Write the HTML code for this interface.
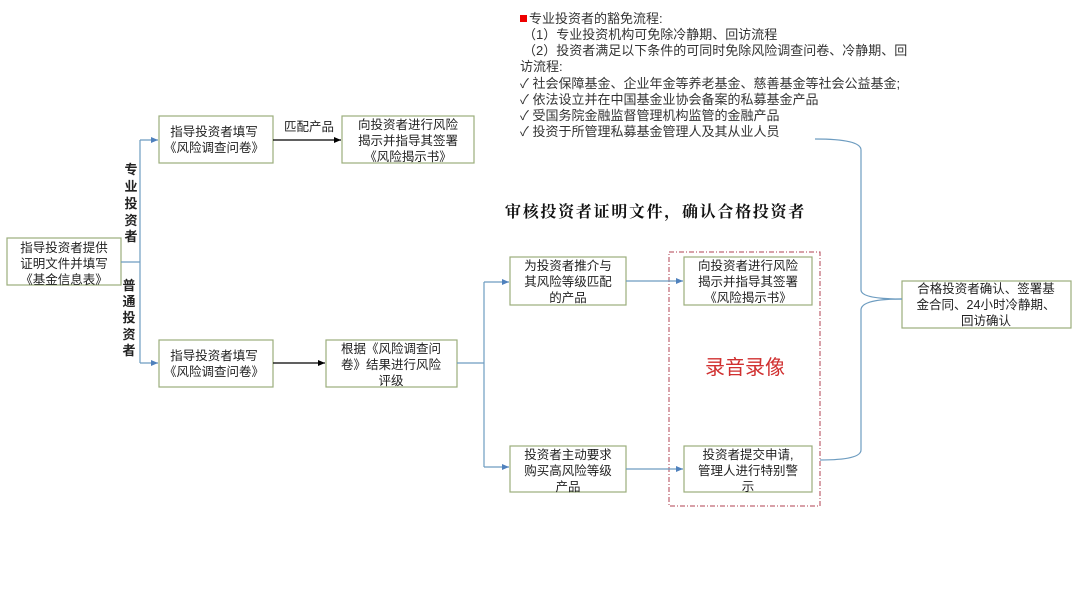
<!DOCTYPE html>
<html><head><meta charset="utf-8"><style>
body{margin:0;background:#fff;}
svg{display:block;font-family:"Liberation Sans","Noto Sans CJK SC",sans-serif;}
</style></head><body>
<svg width="1080" height="608" viewBox="0 0 1080 608" xmlns="http://www.w3.org/2000/svg">
<defs>
<marker id="ab" markerWidth="8" markerHeight="8" refX="7" refY="4" orient="auto" markerUnits="userSpaceOnUse"><path d="M0,1 L7,4 L0,7 z" fill="#4f81bd"/></marker>
<marker id="ak" markerWidth="8" markerHeight="8" refX="7" refY="4" orient="auto" markerUnits="userSpaceOnUse"><path d="M0,1 L7,4 L0,7 z" fill="#000"/></marker>
</defs>
<g font-size="13" fill="#333">
<rect x="520" y="15" width="7" height="7" fill="#e00"/>
<text x="529" y="23">专业投资者的豁免流程:</text>
<text x="523" y="39">（1）专业投资机构可免除冷静期、回访流程</text>
<text x="523" y="55">（2）投资者满足以下条件的可同时免除风险调查问卷、冷静期、回</text>
<text x="520" y="71">访流程:</text>
<text x="520" y="88">✓ 社会保障基金、企业年金等养老基金、慈善基金等社会公益基金;</text>
<text x="520" y="104">✓ 依法设立并在中国基金业协会备案的私募基金产品</text>
<text x="520" y="120">✓ 受国务院金融监督管理机构监管的金融产品</text>
<text x="520" y="136">✓ 投资于所管理私募基金管理人及其从业人员</text>
</g>
<text x="505" y="217" font-size="16" font-weight="bold" fill="#111" font-family="'Liberation Serif','Noto Serif CJK SC',serif" letter-spacing="1.7">审核投资者证明文件，确认合格投资者</text>
<g fill="#fff" stroke="#9bae7c" stroke-width="1.2">
<rect x="7" y="238" width="114" height="47"/>
<rect x="159" y="116" width="114" height="47"/>
<rect x="342" y="116" width="132" height="47"/>
<rect x="159" y="340" width="114" height="47"/>
<rect x="326" y="340" width="131" height="47"/>
<rect x="510" y="257" width="116" height="48"/>
<rect x="510" y="446" width="116" height="46"/>
<rect x="684" y="257" width="128" height="48"/>
<rect x="684" y="446" width="128" height="46"/>
<rect x="902" y="281" width="169" height="47"/>
</g>
<rect x="669" y="252" width="151" height="254" fill="none" stroke="#b04050" stroke-width="1" stroke-dasharray="5,2,1,2"/>
<g font-size="12.5" fill="#222" text-anchor="middle">
<text x="64" y="252">指导投资者提供</text><text x="64" y="268">证明文件并填写</text><text x="64" y="284">《基金信息表》</text>
<text x="214" y="136">指导投资者填写</text><text x="214" y="152">《风险调查问卷》</text>
<text x="408" y="129">向投资者进行风险</text><text x="408" y="145">揭示并指导其签署</text><text x="408" y="161">《风险揭示书》</text>
<text x="214" y="360">指导投资者填写</text><text x="214" y="376">《风险调查问卷》</text>
<text x="391" y="353">根据《风险调查问</text><text x="391" y="369">卷》结果进行风险</text><text x="391" y="385">评级</text>
<text x="568" y="270">为投资者推介与</text><text x="568" y="286">其风险等级匹配</text><text x="568" y="302">的产品</text>
<text x="568" y="459">投资者主动要求</text><text x="568" y="475">购买高风险等级</text><text x="568" y="491">产品</text>
<text x="748" y="270">向投资者进行风险</text><text x="748" y="286">揭示并指导其签署</text><text x="748" y="302">《风险揭示书》</text>
<text x="748" y="459">投资者提交申请,</text><text x="748" y="475">管理人进行特别警</text><text x="748" y="491">示</text>
<text x="986" y="293">合格投资者确认、签署基</text><text x="986" y="309">金合同、24小时冷静期、</text><text x="986" y="325">回访确认</text>
<text x="309" y="131">匹配产品</text>
</g>
<g font-size="13" font-weight="bold" fill="#222" text-anchor="middle">
<text x="131" y="174">专</text><text x="131" y="191">业</text><text x="131" y="208">投</text><text x="131" y="225">资</text><text x="131" y="241">者</text>
<text x="129" y="290">普</text><text x="129" y="306">通</text><text x="129" y="322">投</text><text x="129" y="339">资</text><text x="129" y="355">者</text>
</g>
<text x="745" y="374" font-size="20" fill="#d03030" text-anchor="middle">录音录像</text>
<g fill="none" stroke="#6d9cc0" stroke-width="1.2">
<path d="M121,262 H140 M140,140 V363"/>
<path d="M140,140 H158" marker-end="url(#ab)"/>
<path d="M140,363 H158" marker-end="url(#ab)"/>
<path d="M457,363 H484 M484,282 V467"/>
<path d="M484,282 H509" marker-end="url(#ab)"/>
<path d="M484,467 H509" marker-end="url(#ab)"/>
<path d="M626,281 H683" marker-end="url(#ab)"/>
<path d="M626,469 H683" marker-end="url(#ab)"/>
<path d="M815,139 Q861,139 861,150 V290 Q861,299 902,299"/>
<path d="M820,460 Q861,460 861,450 V310 Q861,299 902,299"/>
</g>
<g fill="none" stroke="#000" stroke-width="1.2">
<path d="M273,140 H341" marker-end="url(#ak)"/>
<path d="M273,363 H325" marker-end="url(#ak)"/>
</g>
</svg>
</body></html>
